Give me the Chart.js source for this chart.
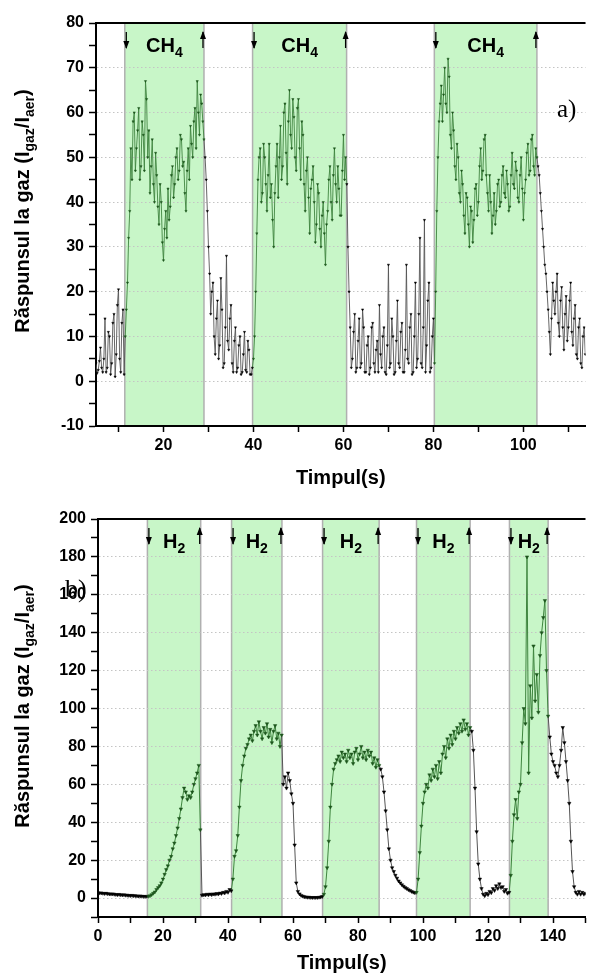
<!DOCTYPE html>
<html>
<head>
<meta charset="utf-8">
<script src="https://cdn.jsdelivr.net/npm/chart.js@4.4.0/dist/chart.umd.min.js"></script>
<style>
	body { margin: 0; background: #fff; width: 590px; height: 980px; overflow: hidden; }
	.cutie { position: absolute; left: 0; width: 590px; height: 490px; }
	#cutieA { top: 0; }
	#cutieB { top: 490px; }
</style>
</head>
<body>
<div class="cutie" id="cutieA"><canvas id="grafikCH4"></canvas></div>
<div class="cutie" id="cutieB"><canvas id="grafikH2"></canvas></div>
<script>
// ---- a) CH4 (o valoare la fiecare 0.25 s, de la t = 5 s)
var timpStartCH4 = 5;
var pasCH4 = 0.25;
var raspunsCH4 = [
	4, 1.8, 2.5, 4.5, 7.5, 3, 2, 5, 14, 2, 3, 11, 10, 1.5, 4, 13, 15, 1, 6, 17,
	20.5, 5, 2, 13, 16, 1.5,
	// CH4 pornit
	10, 16, 22, 32, 38, 52, 45, 58, 60, 47, 52, 56, 61, 45, 48, 58, 55, 47, 67, 63,
	50, 56, 42, 48, 54, 44, 40, 51, 46, 39, 35, 44, 40, 31, 27, 34, 38, 32, 43, 36,
	39, 46, 48, 41, 44, 50, 52, 45, 47, 55, 54, 48, 49, 42, 38, 47, 52, 45, 57, 53,
	50, 58, 61, 52, 67, 60, 55, 64, 62, 58, 54,
	// aer
	50, 45, 38, 30, 24, 15, 20, 22, 10, 6, 14, 18, 5, 8, 23, 16, 3, 4, 12, 28,
	9, 7, 14, 17, 4, 2, 9, 12, 2, 3, 8, 10, 1.5, 2, 6, 11, 2.5, 2, 9, 7,
	1.5, 1.5, 3,
	// CH4 pornit
	5, 10, 20, 33, 45, 50, 52, 40, 42, 53, 50, 44, 38, 46, 53, 41, 44, 36, 30, 42,
	48, 53, 41, 50, 57, 45, 48, 60, 62, 51, 44, 58, 65, 55, 52, 63, 59, 50, 47, 61,
	63, 52, 45, 58, 55, 44, 38, 47, 50, 41, 33, 43, 45, 48, 40, 31, 35, 44, 42, 34,
	30, 37, 40, 33, 26, 35, 38, 45, 48, 40, 36, 46, 52, 44, 40, 48, 43, 37, 37, 47,
	55, 45, 50, 44,
	// aer
	30, 20, 12, 3, 5, 11, 15, 2, 3, 9, 14, 3, 4, 16, 12, 2, 2, 8, 10, 1.5,
	3, 12, 13, 4, 2, 7, 9, 2, 17, 6, 3, 10, 12, 2, 1.5, 8, 26, 3, 4, 14,
	10, 1.5, 2, 9, 18, 4, 3, 11, 13, 2, 2, 7, 26, 5, 4, 12, 15, 1.5, 2, 10,
	22, 3, 5, 15, 32, 4, 3, 12, 36, 2, 8, 18, 22, 2, 3, 10, 14, 4,
	// CH4 pornit
	20, 38, 50, 58, 62, 66, 58, 64, 70, 62, 60, 72, 68, 55, 52, 60, 56, 48, 45, 53,
	50, 42, 40, 47, 44, 37, 33, 42, 41, 35, 30, 39, 38, 31, 36, 43, 44, 37, 40, 48,
	52, 45, 47, 54, 55, 46, 42, 38, 46, 40, 33, 37, 42, 35, 38, 44, 45, 39, 40, 46,
	48, 42, 41, 47, 44, 38, 39, 46, 51, 44, 43, 49, 47, 41, 40, 46, 50, 43, 36, 42,
	45, 51, 53, 46, 47, 54, 55, 48, 46, 52,
	// aer
	50, 48, 46, 42, 38, 34, 30, 26, 24, 20, 16, 11, 6, 14, 22, 18, 15, 20, 24, 13,
	10, 18, 21, 12, 7, 15, 19, 9, 12, 18, 22, 11, 8, 14, 17, 6, 5, 12, 14, 4,
	3, 10, 12, 6
];
var benziCH4 = [[11.4, 29.0], [39.8, 60.7], [80.2, 103.0]];
var gazCH4 = ['CH', '4'];
var tickuriXCH4 = [10, 20, 30, 40, 50, 60, 70, 80, 90, 100, 110];
var eticheteXCH4 = [20, 40, 60, 80, 100];
var tickuriYCH4 = [-10, -5, 0, 5, 10, 15, 20, 25, 30, 35, 40, 45, 50, 55, 60, 65, 70, 75, 80];
var eticheteYCH4 = [-10, 0, 10, 20, 30, 40, 50, 60, 70, 80];

// ---- b) H2 (o valoare la fiecare 0.5 s, de la t = 0 s)
var timpStartH2 = 0;
var pasH2 = 0.5;
var raspunsH2 = [
	2.8, 2.6, 2.7, 2.5, 2.4, 2.5, 2.3, 2.2, 2.1, 2.2, 2.0, 1.9, 1.8, 1.9, 1.7, 1.6,
	1.7, 1.5, 1.5, 1.4, 1.3, 1.4, 1.2, 1.2, 1.1, 1.0, 1.1, 0.9, 0.9, 0.8, 0.9,
	// H2 pornit
	0.9, 1.2, 1.8, 2.5, 3.2, 4.5, 5.5, 6.5, 8, 10, 12.5, 15, 17, 20, 22, 26, 29, 33,
	37, 42, 47, 53, 58, 56, 52, 54, 53, 56, 60, 63, 66, 70, 36,
	// aer
	1.5, 1.8, 1.6, 2.0, 1.7, 2.1, 1.8, 2.2, 2.0, 2.4, 2.1, 2.6, 2.4, 3.0, 2.7, 3.5, 3.0, 4.5, 3.8,
	// H2 pornit
	10, 22, 25, 33, 48, 62, 70, 75, 79, 81, 84, 86, 83, 88, 91, 86, 93, 88, 84, 90,
	87, 92, 85, 89, 82, 88, 91, 84, 87, 80, 86,
	// aer
	60, 64, 58, 66, 62, 55, 50, 28, 8, 3.5, 2.2, 1.4, 1.0, 0.7, 0.5, 0.4, 0.4, 0.3,
	0.3, 0.3, 0.3, 0.3, 0.4, 0.5, 0.8,
	// H2 pornit
	2, 6, 16, 30, 48, 60, 68, 71, 73, 75, 72, 77, 74, 76, 72, 78, 74, 76, 71, 77,
	79, 73, 76, 80, 74, 77, 73, 78, 75, 77, 71, 74, 69, 73, 70,
	// aer
	68, 64, 56, 46, 36, 26, 20, 16, 14, 12, 10.5, 9, 8, 7, 6.2, 5.5, 5, 4.4, 4, 3.5, 3.1, 2.8,
	// H2 pornit
	3, 10, 24, 38, 50, 56, 60, 58, 65, 62, 68, 64, 70, 63, 72, 66, 76, 80, 74, 84,
	79, 86, 81, 88, 84, 90, 87, 92, 88, 94, 89, 92, 86,
	// aer
	90, 88, 78, 58, 35, 18, 10, 5, 2, 1.2, 2.5, 1.8, 3.5, 2.8, 5, 4, 6.5, 5, 7.5, 5.5,
	6, 3.5, 4.5, 2.5, 3,
	// H2 pornit
	12, 30, 44, 52, 42, 56, 60, 82, 100, 92, 180, 66, 112, 95, 133, 104, 118, 98, 128, 140,
	148, 157, 120, 96,
	// aer
	85, 76, 72, 70, 66, 64, 70, 78, 90, 82, 72, 62, 50, 30, 14, 6, 3, 2, 3.5, 2, 3, 2, 2.5
];
var benziH2 = [[15.2, 31.6], [41.1, 56.6], [69.1, 86.5], [98.0, 114.5], [126.6, 138.5]];
var gazH2 = ['H', '2'];
var tickuriXH2 = [0, 10, 20, 30, 40, 50, 60, 70, 80, 90, 100, 110, 120, 130, 140, 150];
var eticheteXH2 = [0, 20, 40, 60, 80, 100, 120, 140];
var tickuriYH2 = [-10, 0, 10, 20, 30, 40, 50, 60, 70, 80, 90, 100, 110, 120, 130, 140, 150, 160, 170, 180, 190, 200];
var eticheteYH2 = [0, 20, 40, 60, 80, 100, 120, 140, 160, 180, 200];

var fontAxa = 'Liberation Sans, Arial, sans-serif';
var culoareBanda = 'rgb(200, 246, 200)';
var verdePunct = '#1d561d';
var verdeLinie = '#3f853f';
var griLinie = '#555555';

function inBanda(x, benzi) {
	for (var i = 0; i < benzi.length; i++) {
		if (x >= benzi[i][0] && x <= benzi[i][1]) return true;
	}
	return false;
}

function sageata(ctx, x, y1, y2, jos) {
	ctx.beginPath();
	ctx.moveTo(x, y1);
	ctx.lineTo(x, y2);
	ctx.stroke();
	ctx.beginPath();
	if (jos) {
		ctx.moveTo(x - 3, y2 - 7); ctx.lineTo(x + 3, y2 - 7); ctx.lineTo(x, y2 + 1);
	} else {
		ctx.moveTo(x - 3, y1 + 7); ctx.lineTo(x + 3, y1 + 7); ctx.lineTo(x, y1 - 1);
	}
	ctx.closePath();
	ctx.fill();
}

function decor(setari) {
	return {
		id: 'decor',
		beforeDraw: function(chart) {
			// benzile verzi (gaz pornit)
			var ctx = chart.ctx, area = chart.chartArea, sx = chart.scales.x;
			ctx.save();
			setari.benzi.forEach(function(b) {
				var x1 = sx.getPixelForValue(b[0]), x2 = sx.getPixelForValue(b[1]);
				ctx.fillStyle = culoareBanda;
				ctx.fillRect(x1, area.top, x2 - x1, area.bottom - area.top);
				ctx.strokeStyle = '#b0b0b0';
				ctx.lineWidth = 1.5;
				ctx.beginPath();
				ctx.moveTo(x1, area.top); ctx.lineTo(x1, area.bottom);
				ctx.moveTo(x2, area.top); ctx.lineTo(x2, area.bottom);
				ctx.stroke();
			});
			ctx.restore();
		},
		afterDraw: function(chart) {
			var ctx = chart.ctx, area = chart.chartArea, sx = chart.scales.x;
			ctx.save();
			// linia de sus
			ctx.strokeStyle = '#000';
			ctx.lineWidth = 2;
			ctx.beginPath();
			ctx.moveTo(area.left - 1, area.top);
			ctx.lineTo(area.right, area.top);
			ctx.stroke();

			ctx.fillStyle = '#000';
			ctx.lineWidth = 1.3;
			setari.benzi.forEach(function(b) {
				var x1 = sx.getPixelForValue(b[0]), x2 = sx.getPixelForValue(b[1]);
				sageata(ctx, x1 + 1.5, area.top + 9, area.top + 25, true);
				sageata(ctx, x2 - 1, area.top + 9, area.top + 25, false);
				// eticheta gazului cu indice
				ctx.font = 'bold 20px ' + fontAxa;
				var w1 = ctx.measureText(setari.gaz[0]).width;
				ctx.font = 'bold 14px ' + fontAxa;
				var w2 = ctx.measureText(setari.gaz[1]).width;
				var xs = (x1 + x2) / 2 - (w1 + w2) / 2;
				ctx.textAlign = 'left';
				ctx.textBaseline = 'alphabetic';
				ctx.font = 'bold 20px ' + fontAxa;
				ctx.fillText(setari.gaz[0], xs, area.top + 29);
				ctx.font = 'bold 14px ' + fontAxa;
				ctx.fillText(setari.gaz[1], xs + w1, area.top + 34);
			});

			// a) / b)
			ctx.font = setari.litera.marime + 'px Liberation Serif, Times New Roman, serif';
			ctx.fillText(setari.litera.text, setari.litera.x, setari.litera.y);

			// titlul axei Y cu indici
			var parti = [['Răspunsul la gaz (I', 0], ['gaz', 1], ['/I', 0], ['aer', 1], [')', 0]];
			var total = 0;
			parti.forEach(function(p) {
				ctx.font = (p[1] ? 'bold 14px ' : 'bold 20px ') + fontAxa;
				p.push(ctx.measureText(p[0]).width);
				total += p[2];
			});
			ctx.translate(setari.titluY.x, setari.titluY.c);
			ctx.rotate(-Math.PI / 2);
			var pozx = -total / 2;
			parti.forEach(function(p) {
				ctx.font = (p[1] ? 'bold 14px ' : 'bold 20px ') + fontAxa;
				ctx.fillText(p[0], pozx, p[1] ? 5 : 0);
				pozx += p[2];
			});
			ctx.restore();
		}
	};
}

function grafic(idCanvas, setari) {
	var puncte = setari.valori.map(function(v, i) {
		return {x: Math.round((setari.start + i * setari.pas) * 100) / 100, y: v};
	});
	var culoarePunct = function(c) {
		return (c.raw && inBanda(c.raw.x, setari.benzi)) ? verdePunct : '#000';
	};
	return new Chart(document.getElementById(idCanvas), {
		type: 'line',
		data: {
			datasets: [{
				data: puncte,
				borderWidth: setari.grosime,
				tension: 0,
				pointStyle: 'triangle',
				rotation: 180,
				pointRadius: setari.raza,
				pointBorderWidth: 0.5,
				pointBackgroundColor: culoarePunct,
				pointBorderColor: culoarePunct,
				segment: {
					borderColor: function(c) {
						var m = (c.p0.parsed.x + c.p1.parsed.x) / 2;
						return inBanda(m, setari.benzi) ? verdeLinie : griLinie;
					}
				}
			}]
		},
		options: {
			animation: false,
			responsive: true,
			maintainAspectRatio: false,
			layout: {padding: {top: setari.sus, right: 0, left: 0, bottom: 0}},
			plugins: {legend: {display: false}, tooltip: {enabled: false}},
			scales: {
				x: {
					type: 'linear',
					min: setari.xmin,
					max: setari.xmax,
					afterBuildTicks: function(s) {
						s.ticks = setari.tickuriX.map(function(v) { return {value: v}; });
					},
					afterFit: function(s) { s.height = setari.inaltimeX; },
					ticks: {
						autoSkip: false, maxRotation: 0, padding: 4, color: '#000',
						font: {family: fontAxa, weight: 'bold', size: 16},
						callback: function(v) { return setari.eticheteX.indexOf(v) >= 0 ? String(v) : ''; }
					},
					grid: {drawOnChartArea: false, tickLength: 6, tickColor: '#000', tickWidth: 1.5},
					border: {color: '#000', width: 2},
					title: {
						display: true, text: 'Timpul(s)', color: '#000',
						font: {family: fontAxa, weight: 'bold', size: 20},
						padding: {top: 0, bottom: setari.padTitluX}
					}
				},
				y: {
					min: setari.ymin,
					max: setari.ymax,
					afterBuildTicks: function(s) {
						s.ticks = setari.tickuriY.map(function(v) { return {value: v}; });
					},
					afterFit: function(s) { s.width = setari.latimeY; },
					ticks: {
						autoSkip: false, padding: 5, color: '#000',
						font: {family: fontAxa, weight: 'bold', size: 16},
						callback: function(v) { return setari.eticheteY.indexOf(v) >= 0 ? String(v) : ''; }
					},
					grid: {
						color: function(c) {
							return (c.tick && setari.eticheteY.indexOf(c.tick.value) >= 0) ? '#c4c4c4' : 'rgba(0,0,0,0)';
						},
						lineWidth: 1, tickLength: 7, tickColor: '#000', tickWidth: 1.5
					},
					border: {color: '#000', width: 2, dash: [1.5, 2.5]}
				}
			}
		},
		plugins: [decor(setari)]
	});
}

grafic('grafikCH4', {
	valori: raspunsCH4, start: timpStartCH4, pas: pasCH4, benzi: benziCH4, gaz: gazCH4,
	tickuriX: tickuriXCH4, eticheteX: eticheteXCH4, tickuriY: tickuriYCH4, eticheteY: eticheteYCH4,
	xmin: 5, xmax: 113.8, ymin: -10, ymax: 80,
	sus: 23, latimeY: 96, inaltimeX: 64, padTitluX: 0, raza: 1.3, grosime: 0.9,
	litera: {text: 'a)', x: 557, y: 117, marime: 25},
	titluY: {x: 29, c: 211}
});

grafic('grafikH2', {
	valori: raspunsH2, start: timpStartH2, pas: pasH2, benzi: benziH2, gaz: gazH2,
	tickuriX: tickuriXH2, eticheteX: eticheteXH2, tickuriY: tickuriYH2, eticheteY: eticheteYH2,
	xmin: 0, xmax: 150, ymin: -10, ymax: 200,
	sus: 29, latimeY: 98, inaltimeX: 63, padTitluX: 5, raza: 2, grosime: 1,
	litera: {text: 'b)', x: 65, y: 107, marime: 26},
	titluY: {x: 29, c: 216}
});
</script>
</body>
</html>
